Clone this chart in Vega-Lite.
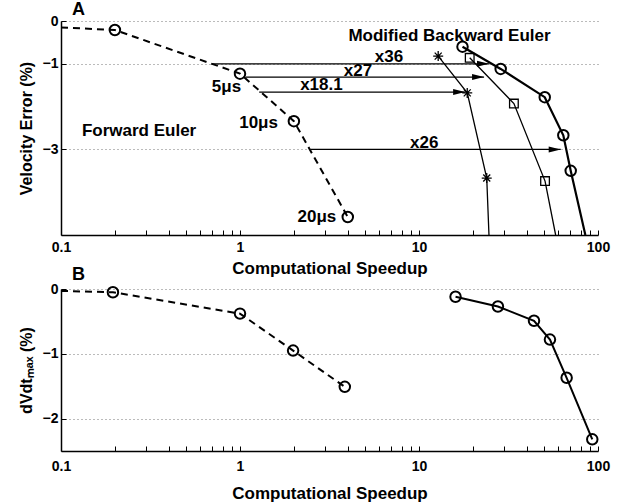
{
  "$schema": "https://vega.github.io/schema/vega-lite/v6.json",
  "padding": {"left": 18, "top": 1, "right": 8, "bottom": 4},
  "background": "white",
  "config": {
    "font": "Liberation Sans",
    "view": {"stroke": null},
    "axis": {
      "labelFont": "Liberation Sans",
      "labelFontSize": 14,
      "labelFontWeight": "bold",
      "labelColor": "black",
      "titleFont": "Liberation Sans",
      "titleFontSize": 16,
      "titleFontWeight": "bold",
      "titleColor": "black",
      "domainColor": "black",
      "domainWidth": 1.5,
      "tickColor": "black",
      "tickWidth": 1,
      "tickSize": -5,
      "gridColor": "#777777",
      "gridDash": [1, 3],
      "gridWidth": 1
    },
    "axisX": {"titleFontSize": 17},
    "title": {"font": "Liberation Sans", "fontSize": 18, "fontWeight": "bold", "anchor": "start", "frame": "group", "color": "black"}
  },
  "datasets": {
    "A": [
      {"s": "fe", "x": 0.1, "y": -0.15, "mk": false},
      {"s": "fe", "x": 0.2, "y": -0.21, "mk": true},
      {"s": "fe", "x": 1.0, "y": -1.23, "mk": true},
      {"s": "fe", "x": 2.0, "y": -2.34, "mk": true},
      {"s": "fe", "x": 4.0, "y": -4.58, "mk": true},
      {"s": "circ", "x": 17.5, "y": -0.6, "mk": true},
      {"s": "circ", "x": 28.6, "y": -1.12, "mk": true},
      {"s": "circ", "x": 50.4, "y": -1.78, "mk": true},
      {"s": "circ", "x": 64.0, "y": -2.67, "mk": true},
      {"s": "circ", "x": 70.4, "y": -3.5, "mk": true},
      {"s": "circ", "x": 85.0, "y": -5.0, "mk": false},
      {"s": "sq", "x": 19.2, "y": -0.86, "mk": true},
      {"s": "sq", "x": 33.9, "y": -1.93, "mk": true},
      {"s": "sq", "x": 50.6, "y": -3.74, "mk": true},
      {"s": "sq", "x": 58.0, "y": -5.0, "mk": false},
      {"s": "star", "x": 12.8, "y": -0.82, "mk": true},
      {"s": "star", "x": 18.6, "y": -1.68, "mk": true},
      {"s": "star", "x": 23.9, "y": -3.67, "mk": true},
      {"s": "star", "x": 24.6, "y": -5.0, "mk": false}
    ],
    "arrows": [
      {"x": 0.695, "x2": 24.6, "y": -1.0},
      {"x": 1.076, "x2": 23.1, "y": -1.31},
      {"x": 1.28, "x2": 18.1, "y": -1.66},
      {"x": 2.48, "x2": 61.9, "y": -3.0}
    ],
    "labelsA": [
      {"x": 6.79, "y": -0.84, "t": "x36"},
      {"x": 4.56, "y": -1.17, "t": "x27"},
      {"x": 2.85, "y": -1.5, "t": "x18.1"},
      {"x": 10.7, "y": -2.84, "t": "x26"},
      {"x": 0.84, "y": -1.54, "t": "5μs"},
      {"x": 1.27, "y": -2.38, "t": "10μs"},
      {"x": 2.69, "y": -4.57, "t": "20μs"},
      {"x": 0.273, "y": -2.57, "t": "Forward Euler"},
      {"x": 14.8, "y": -0.36, "t": "Modified Backward Euler"}
    ],
    "B": [
      {"s": "fe", "x": 0.1, "y": -0.03, "mk": false},
      {"s": "fe", "x": 0.195, "y": -0.05, "mk": true},
      {"s": "fe", "x": 1.0, "y": -0.38, "mk": true},
      {"s": "fe", "x": 1.98, "y": -0.95, "mk": true},
      {"s": "fe", "x": 3.85, "y": -1.51, "mk": true},
      {"s": "circ", "x": 16.0, "y": -0.12, "mk": true},
      {"s": "circ", "x": 27.6, "y": -0.27, "mk": true},
      {"s": "circ", "x": 43.9, "y": -0.49, "mk": true},
      {"s": "circ", "x": 53.9, "y": -0.78, "mk": true},
      {"s": "circ", "x": 66.8, "y": -1.37, "mk": true},
      {"s": "circ", "x": 92.9, "y": -2.32, "mk": true}
    ]
  },
  "bounds": "flush",
  "spacing": 54,
  "vconcat": [
    {
      "width": 537,
      "height": 214,
      "title": {"text": "A", "dx": 11, "dy": 10, "offset": 5},
      "encoding": {
        "x": {
          "field": "x", "type": "quantitative",
          "scale": {"type": "log", "domain": [0.1, 100], "nice": false},
          "axis": {
            "title": "Computational Speedup",
            "values": [0.1, 0.2, 0.3, 0.4, 0.5, 0.6, 0.7, 0.8, 0.9, 1, 2, 3, 4, 5, 6, 7, 8, 9, 10, 20, 30, 40, 50, 60, 70, 80, 90, 100],
            "format": "~g",
            "labelExpr": "datum.value == 0.1 || datum.value == 1 || datum.value == 10 || datum.value == 100 ? datum.label : ''",
            "grid": false,
            "labelPadding": 10,
            "titlePadding": 6,
            "labelFlush": false
          }
        },
        "y": {
          "field": "y", "type": "quantitative",
          "scale": {"domain": [-5, 0], "nice": false, "zero": false},
          "axis": {
            "title": "Velocity Error (%)",
            "values": [0, -1, -3],
            "grid": true,
            "labelPadding": 8,
            "titlePadding": 8
          }
        }
      },
      "layer": [
        {"data": {"name": "A"}, "transform": [{"filter": "datum.s == 'fe'"}],
         "mark": {"type": "line", "color": "black", "strokeWidth": 2, "strokeDash": [7, 5]}},
        {"data": {"name": "A"}, "transform": [{"filter": "datum.s == 'circ'"}],
         "mark": {"type": "line", "color": "black", "strokeWidth": 2.2}},
        {"data": {"name": "A"}, "transform": [{"filter": "datum.s == 'sq'"}],
         "mark": {"type": "line", "color": "black", "strokeWidth": 1.3}},
        {"data": {"name": "A"}, "transform": [{"filter": "datum.s == 'star'"}],
         "mark": {"type": "line", "color": "black", "strokeWidth": 1.3}},
        {"data": {"name": "arrows"},
         "mark": {"type": "rule", "color": "black", "strokeWidth": 1.2},
         "encoding": {"x2": {"field": "x2"}}},
        {"data": {"name": "arrows"},
         "mark": {"type": "point", "shape": "M0,0L-2,-0.5L-2,0.5Z", "filled": true, "color": "black", "size": 144, "opacity": 1},
         "encoding": {"x": {"field": "x2", "type": "quantitative", "title": "Computational Speedup"}}},
        {"data": {"name": "A"}, "transform": [{"filter": "datum.s == 'fe' && datum.mk"}],
         "mark": {"type": "point", "shape": "circle", "filled": false, "stroke": "black", "strokeWidth": 2, "size": 110, "opacity": 1}},
        {"data": {"name": "A"}, "transform": [{"filter": "datum.s == 'circ' && datum.mk"}],
         "mark": {"type": "point", "shape": "circle", "filled": false, "stroke": "black", "strokeWidth": 2, "size": 110, "opacity": 1}},
        {"data": {"name": "A"}, "transform": [{"filter": "datum.s == 'sq' && datum.mk"}],
         "mark": {"type": "point", "shape": "square", "filled": false, "stroke": "black", "strokeWidth": 1.3, "size": 75, "opacity": 1}},
        {"data": {"name": "A"}, "transform": [{"filter": "datum.s == 'star' && datum.mk"}],
         "mark": {"type": "point", "shape": "M-1,0L1,0M0,-1L0,1M-0.7,-0.7L0.7,0.7M-0.7,0.7L0.7,-0.7", "filled": false, "stroke": "black", "strokeWidth": 1.3, "size": 100, "opacity": 1}},
        {"data": {"name": "labelsA"},
         "mark": {"type": "text", "font": "Liberation Sans", "fontSize": 17, "fontWeight": "bold", "color": "black", "align": "center", "baseline": "middle"},
         "encoding": {"text": {"field": "t"}}}
      ]
    },
    {
      "width": 537,
      "height": 162,
      "title": {"text": "B", "dx": 11, "dy": 13, "offset": 11},
      "encoding": {
        "x": {
          "field": "x", "type": "quantitative",
          "scale": {"type": "log", "domain": [0.1, 100], "nice": false},
          "axis": {
            "title": "Computational Speedup",
            "values": [0.1, 0.2, 0.3, 0.4, 0.5, 0.6, 0.7, 0.8, 0.9, 1, 2, 3, 4, 5, 6, 7, 8, 9, 10, 20, 30, 40, 50, 60, 70, 80, 90, 100],
            "format": "~g",
            "labelExpr": "datum.value == 0.1 || datum.value == 1 || datum.value == 10 || datum.value == 100 ? datum.label : ''",
            "grid": false,
            "labelPadding": 13,
            "titlePadding": 12,
            "labelFlush": false
          }
        },
        "y": {
          "field": "y", "type": "quantitative",
          "scale": {"domain": [-2.5, 0], "nice": false, "zero": false},
          "axis": {
            "title": "dVdtₘₐₓ (%)",
            "values": [0, -1, -2],
            "grid": true,
            "labelPadding": 8,
            "titlePadding": 8
          }
        }
      },
      "layer": [
        {"data": {"name": "B"}, "transform": [{"filter": "datum.s == 'fe'"}],
         "mark": {"type": "line", "color": "black", "strokeWidth": 2, "strokeDash": [7, 5]}},
        {"data": {"name": "B"}, "transform": [{"filter": "datum.s == 'circ'"}],
         "mark": {"type": "line", "color": "black", "strokeWidth": 2}},
        {"data": {"name": "B"}, "transform": [{"filter": "datum.mk"}],
         "mark": {"type": "point", "shape": "circle", "filled": false, "stroke": "black", "strokeWidth": 2, "size": 110, "opacity": 1}}
      ]
    }
  ]
}
